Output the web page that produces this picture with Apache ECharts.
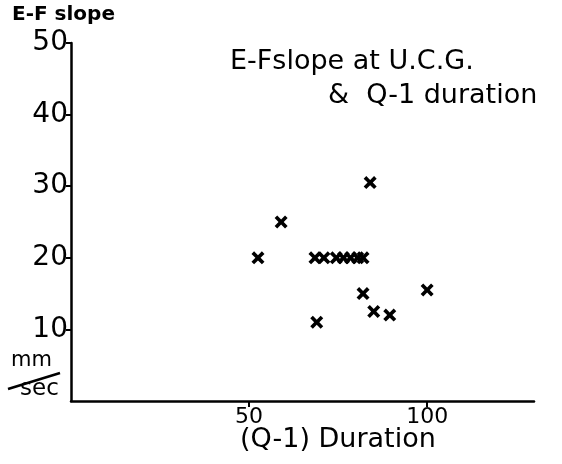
<!DOCTYPE html>
<html>
<head>
<meta charset="utf-8">
<script src="https://cdn.jsdelivr.net/npm/echarts@6/dist/echarts.min.js"></script>
<style>
  html, body { margin: 0; padding: 0; background: #fff; }
  #chart { width: 562px; height: 464px; }
</style>
</head>
<body>
<div id="chart"></div>
<script>
// Q-1 duration (msec) and E-F slope (mm/sec)
const duration = [52.5, 59, 84, 68.5, 71, 74.5, 76.5, 78.5, 80.5, 82, 82, 85, 89.5, 100, 69];
const efSlope  = [20, 25, 30.5, 20, 20, 20, 20, 20, 20, 20, 15, 12.5, 12, 15.5, 11];
const xTicks = [50, 100];
const yTicks = [10, 20, 30, 40, 50];

const font = "DejaVu Sans";
// thick "x" mark
const crossPath = "path://M0,2L2,0L5,3L8,0L10,2L7,5L10,8L8,10L5,7L2,10L0,8L3,5Z";

let chart = echarts.init(document.getElementById("chart"));
let option = {
  backgroundColor: "#fff",
  animation: false,
  grid: { left: 71, right: 28, top: 43, bottom: 63 },
  xAxis: {
    type: "value",
    min: 0,
    max: 130,
    splitLine: { show: false },
    axisLine: { lineStyle: { color: "#000", width: 2.5 } },
    axisTick: { customValues: xTicks, length: 6, lineStyle: { color: "#000", width: 2 } },
    axisLabel: { customValues: xTicks, color: "#000", fontFamily: font, fontSize: 22, margin: 5 }
  },
  yAxis: {
    type: "value",
    min: 0,
    max: 50,
    splitLine: { show: false },
    axisLine: { lineStyle: { color: "#000", width: 2.5 } },
    axisTick: { customValues: yTicks, length: 5, lineStyle: { color: "#000", width: 2 } },
    axisLabel: { customValues: yTicks, color: "#000", fontFamily: font, fontSize: 28, margin: 3 }
  },
  graphic: [
    { type: "text", left: 12, top: 5, style: { text: "E-F slope", fontFamily: font, fontSize: 20, fontWeight: "bold", fill: "#000" } },
    { type: "text", left: 230, top: 48, style: { text: "E-Fslope at U.C.G.", fontFamily: font, fontSize: 27, fill: "#000" } },
    { type: "text", left: 328, top: 82, style: { text: "&  Q-1 duration", fontFamily: font, fontSize: 27, fill: "#000" } },
    { type: "text", left: 240, top: 426, style: { text: "(Q-1) Duration", fontFamily: font, fontSize: 27, fill: "#000" } },
    { type: "text", left: 11, top: 350, style: { text: "mm", fontFamily: font, fontSize: 21, fill: "#000" } },
    { type: "line", shape: { x1: 8, y1: 389, x2: 60, y2: 373 }, style: { stroke: "#000", lineWidth: 2.5 } },
    { type: "text", left: 20, top: 378, style: { text: "sec", fontFamily: font, fontSize: 23, fill: "#000" } }
  ],
  series: [
    {
      type: "scatter",
      symbol: crossPath,
      symbolSize: 13,
      itemStyle: { color: "#000", opacity: 1 },
      data: duration.map((d, i) => [d, efSlope[i]])
    }
  ]
};
chart.setOption(option);
</script>
</body>
</html>
